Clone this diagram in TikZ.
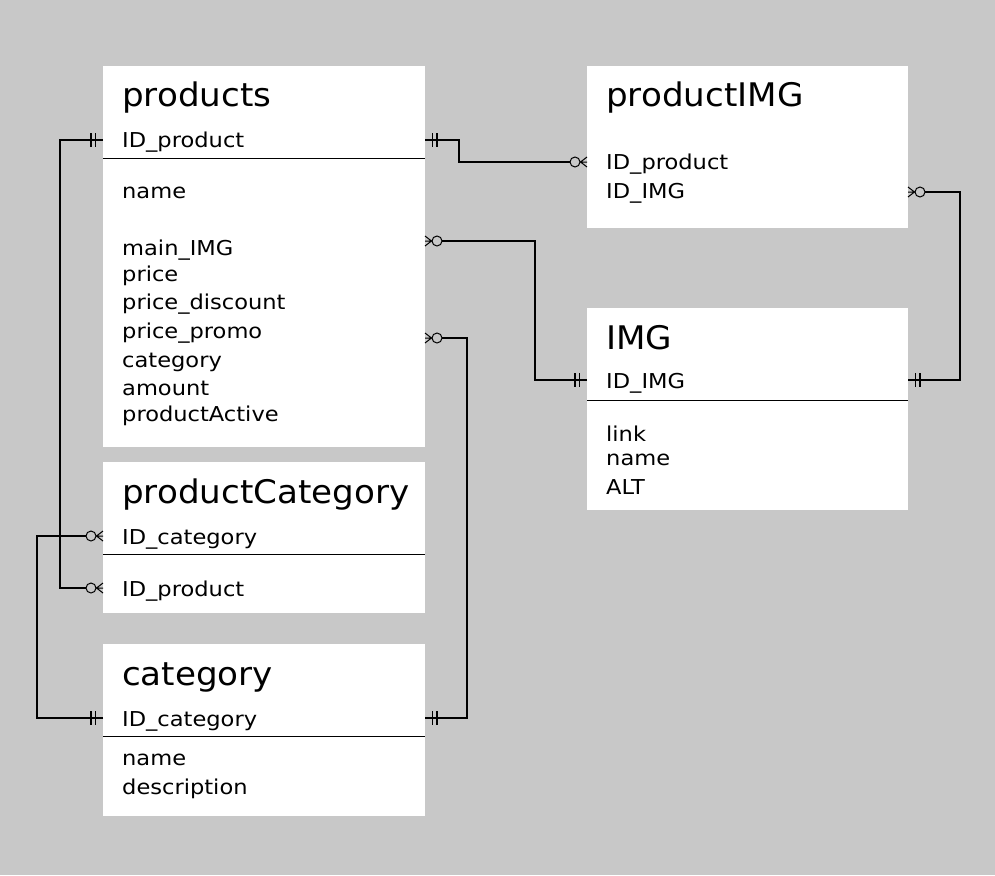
\documentclass[tikz,border=0pt]{standalone}
\usepackage{fontspec}
\setmainfont{DejaVu Sans}
\newfontfamily\bodyfnt[FakeStretch=1.1]{DejaVu Sans}
\newfontfamily\titlefnt[FakeStretch=1.05]{DejaVu Sans}
\definecolor{bg}{RGB}{200,200,200}
\begin{document}
\begin{tikzpicture}[x=1pt,y=-1pt,
  box/.style={fill=white,draw=none,inner sep=0pt,anchor=north west},
  ttl/.style={anchor=base west,inner sep=0pt,font=\titlefnt\fontsize{32.5}{36}\selectfont},
  fld/.style={anchor=base west,inner sep=0pt,font=\bodyfnt\fontsize{20.5}{24}\selectfont},
  divider/.style={line width=1pt},
  conn/.style={line width=1.2pt},
  one/.pic={\draw[line width=1.2pt] (7.5,-7)--(7.5,7) (12,-7)--(12,7);},
  many/.pic={\draw[line width=1pt] (0,-5)--(6.5,0) (0,5)--(6.5,0) (0,0)--(7,0) (12,0) circle[radius=5pt];}]
\fill[bg] (0,0) rectangle (995,875);
\useasboundingbox (0,0) rectangle (995,875);

% boxes
\node[box,minimum width=322pt,minimum height=381pt] (products) at (103,66) {};
\node[box,minimum width=321pt,minimum height=162pt] (productIMG) at (587,66) {};
\node[box,minimum width=321pt,minimum height=202pt] (IMG) at (587,308) {};
\node[box,minimum width=322pt,minimum height=151pt] (productCategory) at (103,462) {};
\node[box,minimum width=322pt,minimum height=172pt] (category) at (103,644) {};

% dividers
\draw[divider] (103,158) -- (425,158);
\draw[divider] (587,400) -- (908,400);
\draw[divider] (103,554) -- (425,554);
\draw[divider] (103,736) -- (425,736);

% products
\node[ttl] (tp) at (122,106) {products};
\node[fld] (p1) at (122,147) {ID\_product};
\node[fld] (p2) at (122,198) {name};
\node[fld] (p3) at (122,255) {main\_IMG};
\node[fld] (p4) at (122,281) {price};
\node[fld] (p5) at (122,309) {price\_discount};
\node[fld] (p6) at (122,338) {price\_promo};
\node[fld] (p7) at (122,367) {category};
\node[fld] (p8) at (122,395) {amount};
\node[fld] (p9) at (122,421) {productActive};

% productIMG
\node[ttl] (tpi) at (606,106) {productIMG};
\node[fld] (pi1) at (606,169) {ID\_product};
\node[fld] (pi2) at (606,198) {ID\_IMG};

% IMG
\node[ttl] (ti) at (606,349) {IMG};
\node[fld] (i1) at (606,388) {ID\_IMG};
\node[fld] (i2) at (606,441) {link};
\node[fld] (i3) at (606,465) {name};
\node[fld] (i4) at (606,494) {ALT};

% productCategory
\node[ttl] (tpc) at (122,503) {productCategory};
\node[fld] (pc1) at (122,544) {ID\_category};
\node[fld] (pc2) at (122,596) {ID\_product};

% category
\node[ttl] (tc) at (122,685) {category};
\node[fld] (c1) at (122,726) {ID\_category};
\node[fld] (c2) at (122,765) {name};
\node[fld] (c3) at (122,794) {description};

% attachment points
\coordinate (pidL) at (103,140);
\coordinate (pidR) at (425,140);
\coordinate (pR1) at (425,241);
\coordinate (pR2) at (425,338);
\coordinate (piidL) at (587,162);
\coordinate (piimgR) at (908,192);
\coordinate (imgidL) at (587,380);
\coordinate (imgidR) at (908,380);
\coordinate (pccidL) at (103,536);
\coordinate (pcpidL) at (103,588);
\coordinate (cidL) at (103,718);
\coordinate (cidR) at (425,718);

% connectors
\draw[conn] (pidL) -- ++(-43,0) |- ([xshift=-17pt]pcpidL);
\draw[conn] (cidL) -- ++(-66,0) |- ([xshift=-17pt]pccidL);
\draw[conn] (cidR) -- ++(42,0) |- ([xshift=17pt]pR2);
\draw[conn] (imgidL) -- ++(-52,0) |- ([xshift=17pt]pR1);
\draw[conn] (pidR) -- ++(34,0) |- ([xshift=-17pt]piidL);
\draw[conn] (imgidR) -- ++(52,0) |- ([xshift=17pt]piimgR);

% markers
\pic[xscale=-1] at (pidL) {one};
\pic[xscale=-1] at (pcpidL) {many};
\pic[xscale=-1] at (cidL) {one};
\pic[xscale=-1] at (pccidL) {many};
\pic at (cidR) {one};
\pic at (pR2) {many};
\pic[xscale=-1] at (imgidL) {one};
\pic at (pR1) {many};
\pic at (pidR) {one};
\pic[xscale=-1] at (piidL) {many};
\pic at (imgidR) {one};
\pic at (piimgR) {many};
\end{tikzpicture}
\end{document}
